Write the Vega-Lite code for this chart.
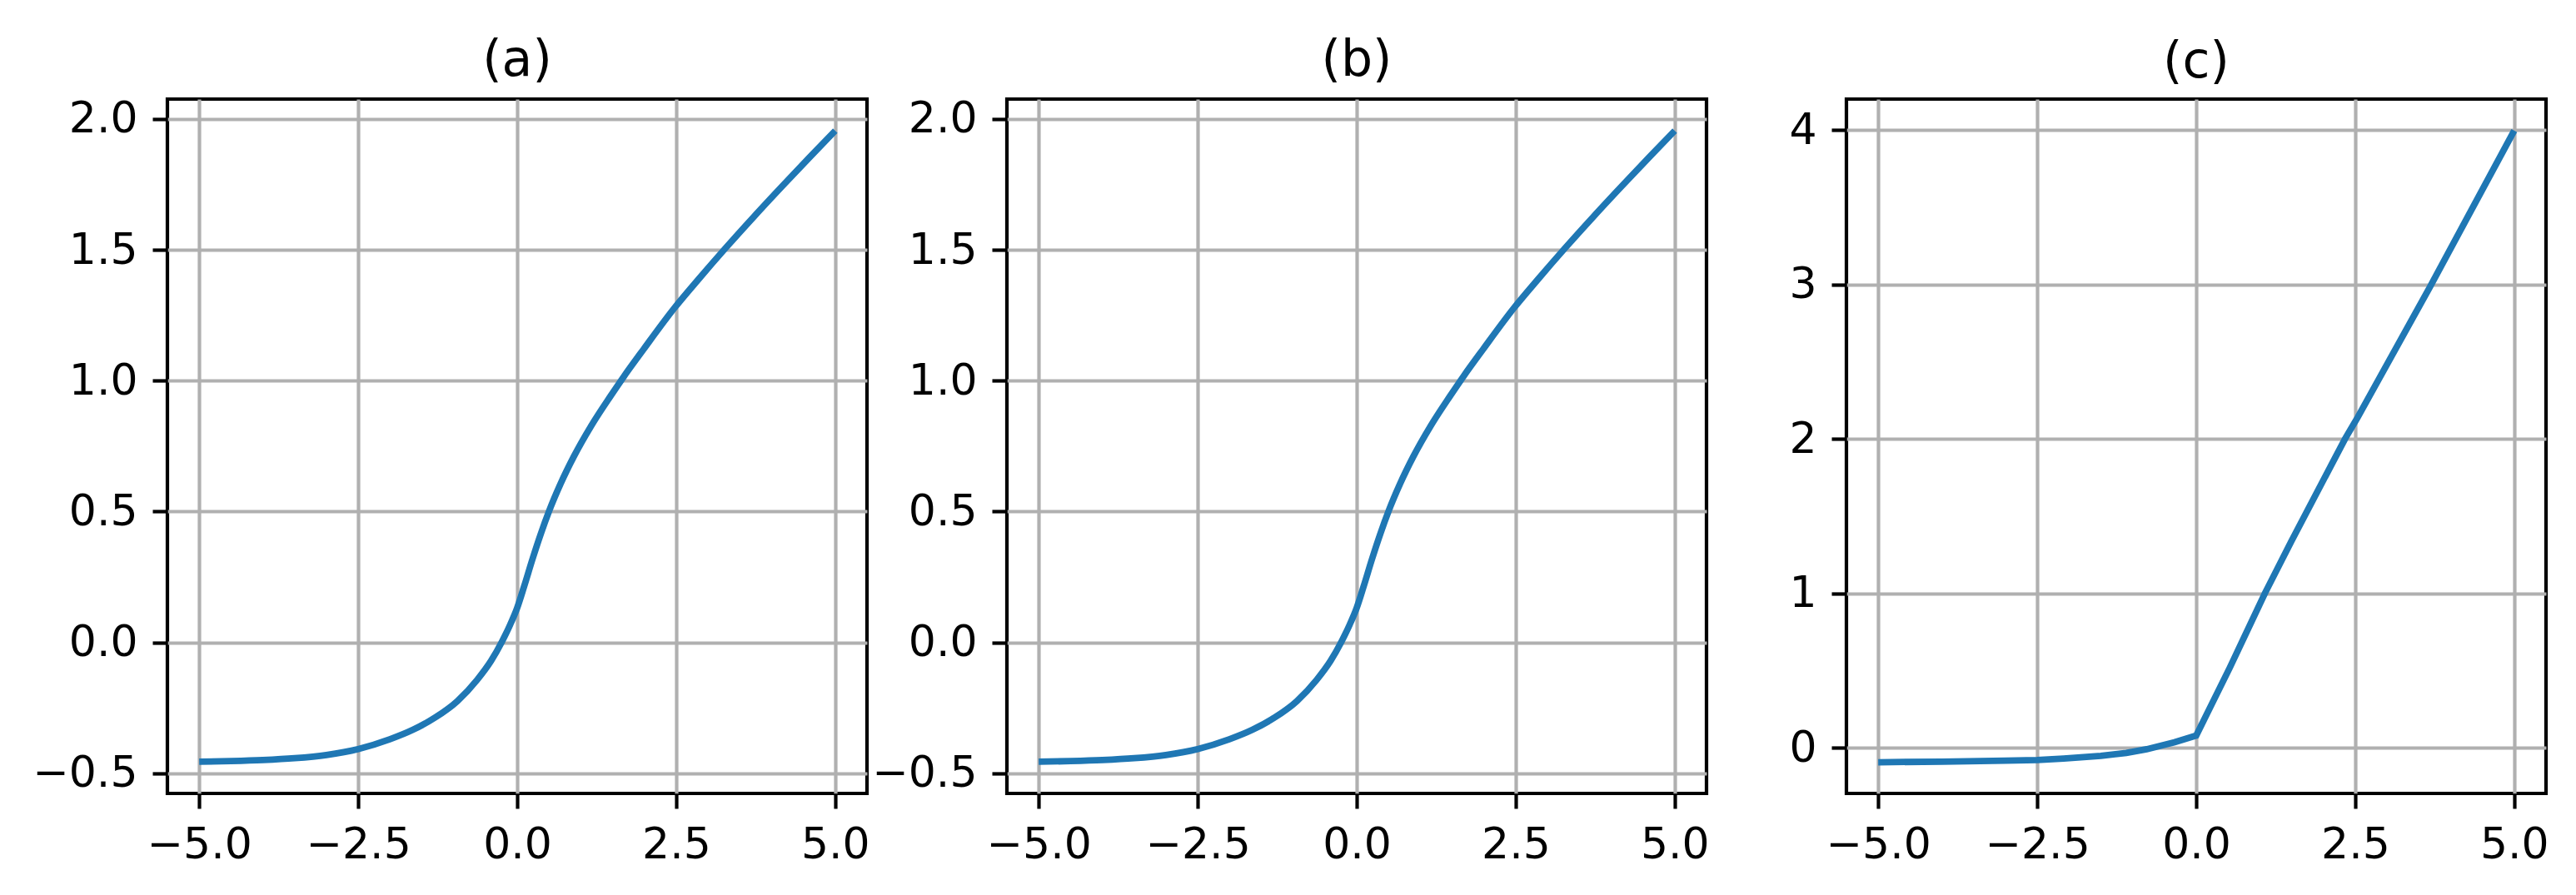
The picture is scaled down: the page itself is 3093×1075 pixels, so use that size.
{
  "$schema": "https://vega.github.io/schema/vega-lite/v6.json",
  "padding": {"left": 36, "top": 40, "right": 5, "bottom": 5},
  "bounds": "flush",
  "spacing": 168,
  "background": "white",
  "config": {
    "font": "DejaVu Sans",
    "view": {"stroke": "black", "strokeWidth": 4.2},
    "axis": {
      "labelFont": "DejaVu Sans",
      "labelFontSize": 52,
      "labelColor": "black",
      "tickColor": "black",
      "tickWidth": 4.2,
      "tickSize": 18,
      "labelPadding": 18,
      "domain": false,
      "grid": true,
      "gridColor": "#b0b0b0",
      "gridWidth": 4.2,
      "gridOpacity": 1,
      "labelFlush": false,
      "labelOverlap": false,
      "title": null
    },
    "title": {
      "font": "DejaVu Sans",
      "fontSize": 60,
      "fontWeight": "normal",
      "color": "black",
      "frame": "group",
      "anchor": "middle",
      "baseline": "alphabetic",
      "offset": 13
    }
  },
  "datasets": {
    "ab": [
      {"x": -5.0, "y": -0.456},
      {"x": -4.5, "y": -0.4535},
      {"x": -4.0, "y": -0.4495},
      {"x": -3.5, "y": -0.4425},
      {"x": -3.0, "y": -0.43},
      {"x": -2.5, "y": -0.4075},
      {"x": -2.0, "y": -0.37},
      {"x": -1.64, "y": -0.334},
      {"x": -1.29, "y": -0.287},
      {"x": -0.94, "y": -0.224},
      {"x": -0.63, "y": -0.143},
      {"x": -0.41, "y": -0.07},
      {"x": -0.24, "y": 0.003},
      {"x": -0.11, "y": 0.068},
      {"x": 0.0, "y": 0.132},
      {"x": 0.11, "y": 0.215},
      {"x": 0.24, "y": 0.318},
      {"x": 0.37, "y": 0.414},
      {"x": 0.5, "y": 0.501},
      {"x": 0.68, "y": 0.605},
      {"x": 0.89, "y": 0.71},
      {"x": 1.16, "y": 0.826},
      {"x": 1.47, "y": 0.942},
      {"x": 1.68, "y": 1.017},
      {"x": 1.99, "y": 1.121},
      {"x": 2.47, "y": 1.277},
      {"x": 2.86, "y": 1.39},
      {"x": 3.27, "y": 1.505},
      {"x": 3.73, "y": 1.629},
      {"x": 4.17, "y": 1.744},
      {"x": 4.6, "y": 1.854},
      {"x": 5.0, "y": 1.955}
    ],
    "c": [
      {"x": -5.0, "y": -0.094},
      {"x": -4.0, "y": -0.09},
      {"x": -3.0, "y": -0.084},
      {"x": -2.5, "y": -0.08},
      {"x": -2.085, "y": -0.07},
      {"x": -1.5, "y": -0.053},
      {"x": -1.1, "y": -0.034},
      {"x": -0.78, "y": -0.01},
      {"x": -0.34, "y": 0.036},
      {"x": 0.0, "y": 0.079},
      {"x": 0.53, "y": 0.52},
      {"x": 1.08, "y": 1.0},
      {"x": 1.5, "y": 1.34},
      {"x": 2.34, "y": 2.0},
      {"x": 2.54, "y": 2.14},
      {"x": 3.67, "y": 2.98},
      {"x": 5.0, "y": 3.996}
    ]
  },
  "hconcat": [
    {
      "title": {"text": "(a)"},
      "width": 840,
      "height": 834,
      "data": {"name": "ab"},
      "mark": {"type": "line", "color": "#1f77b4", "strokeWidth": 7.8, "interpolate": "monotone", "clip": true},
      "encoding": {
        "x": {"field": "x", "type": "quantitative", "scale": {"domain": [-5.5, 5.5], "nice": false, "zero": false}, "axis": {"values": [-5, -2.5, 0, 2.5, 5], "format": ".1f"}},
        "y": {"field": "y", "type": "quantitative", "scale": {"domain": [-0.577, 2.076], "nice": false, "zero": false}, "axis": {"values": [-0.5, 0, 0.5, 1, 1.5, 2], "format": ".1f"}}
      }
    },
    {
      "title": {"text": "(b)"},
      "width": 840,
      "height": 834,
      "data": {"name": "ab"},
      "mark": {"type": "line", "color": "#1f77b4", "strokeWidth": 7.8, "interpolate": "monotone", "clip": true},
      "encoding": {
        "x": {"field": "x", "type": "quantitative", "scale": {"domain": [-5.5, 5.5], "nice": false, "zero": false}, "axis": {"values": [-5, -2.5, 0, 2.5, 5], "format": ".1f"}},
        "y": {"field": "y", "type": "quantitative", "scale": {"domain": [-0.577, 2.076], "nice": false, "zero": false}, "axis": {"values": [-0.5, 0, 0.5, 1, 1.5, 2], "format": ".1f"}}
      }
    },
    {
      "title": {"text": "(c)"},
      "width": 840,
      "height": 834,
      "data": {"name": "c"},
      "mark": {"type": "line", "color": "#1f77b4", "strokeWidth": 7.8, "clip": true},
      "encoding": {
        "x": {"field": "x", "type": "quantitative", "scale": {"domain": [-5.5, 5.5], "nice": false, "zero": false}, "axis": {"values": [-5, -2.5, 0, 2.5, 5], "format": ".1f"}},
        "y": {"field": "y", "type": "quantitative", "scale": {"domain": [-0.296, 4.2], "nice": false, "zero": false}, "axis": {"values": [0, 1, 2, 3, 4], "format": "d"}}
      }
    }
  ]
}
